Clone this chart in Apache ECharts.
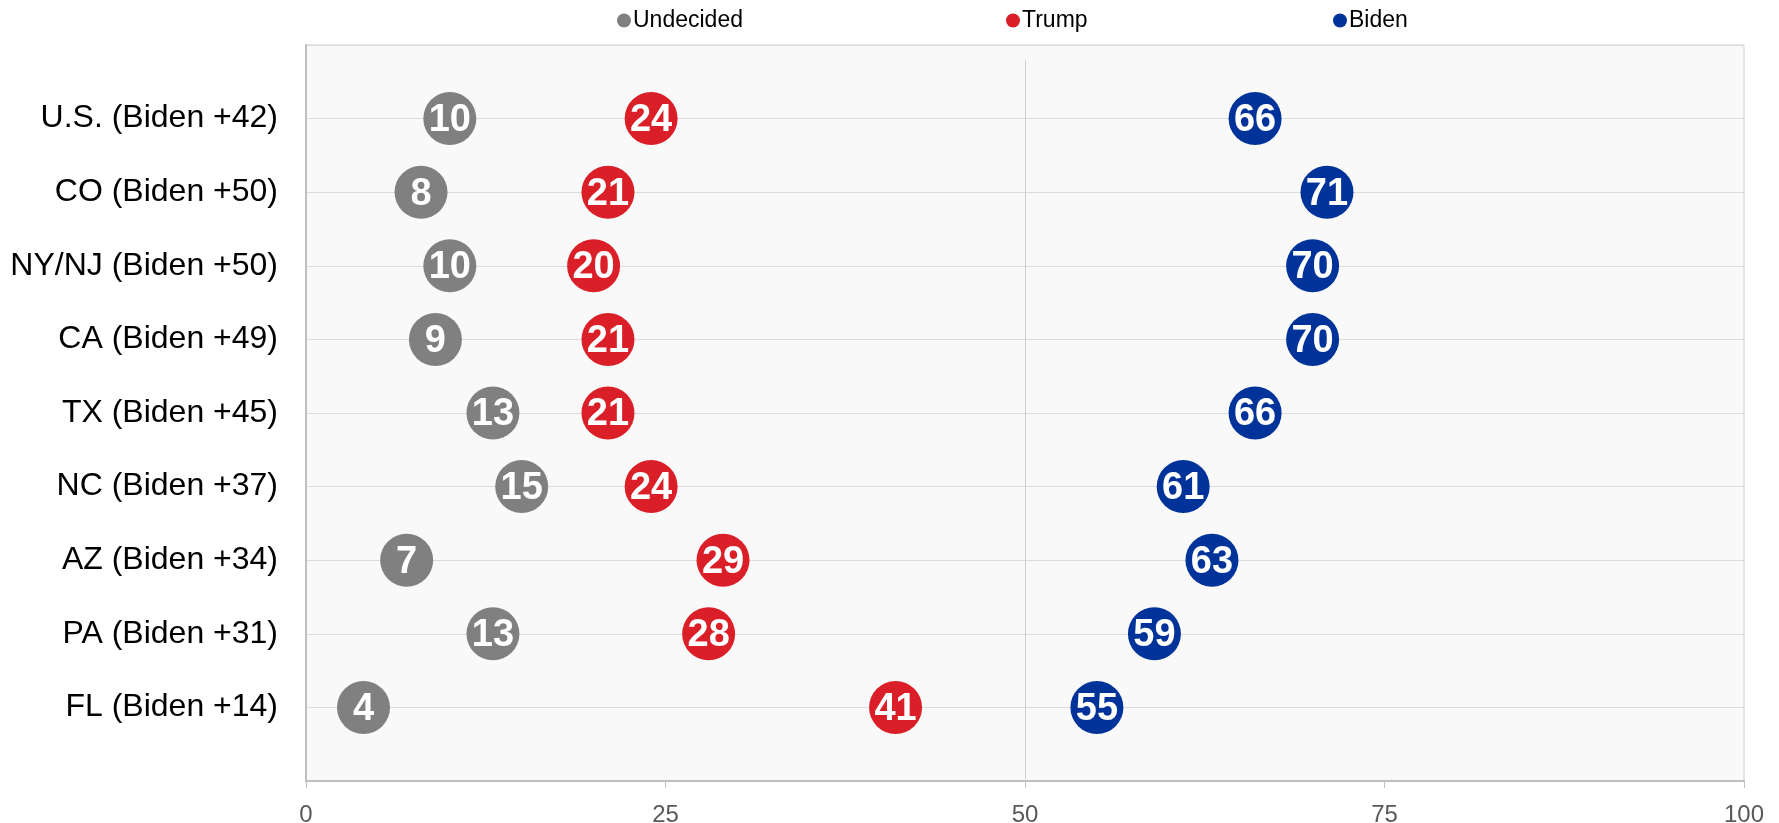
<!DOCTYPE html>
<html>
<head>
<meta charset="utf-8">
<script src="https://cdn.jsdelivr.net/npm/echarts@6/dist/echarts.min.js"></script>
<style>html,body{margin:0;padding:0;background:#fff;}#c{width:1779px;height:823px;}</style>
</head>
<body>
<div id="c"></div>
<script>
const categories = ["U.S. (Biden +42)","CO (Biden +50)","NY/NJ (Biden +50)","CA (Biden +49)","TX (Biden +45)","NC (Biden +37)","AZ (Biden +34)","PA (Biden +31)","FL (Biden +14)"];
const undecided = [10, 8, 10, 9, 13, 15, 7, 13, 4];
const trump = [24, 21, 20, 21, 21, 24, 29, 28, 41];
const biden = [66, 71, 70, 70, 66, 61, 63, 59, 55];
const xTicks = [0, 25, 50, 75, 100];

const seriesDefs = [
  {name: "Undecided", values: undecided, color: "#808080"},
  {name: "Trump", values: trump, color: "#DA1F28"},
  {name: "Biden", values: biden, color: "#00339A"}
];

const chart = echarts.init(document.getElementById('c'), null, {renderer: 'canvas'});
const legendLefts = [612, 1001, 1328];
const option = {
  animation: false,
  backgroundColor: '#ffffff',
  textStyle: {fontFamily: 'Liberation Sans, Arial, sans-serif'},
  legend: seriesDefs.map((s, i) => ({
    data: [s.name], left: legendLefts[i], top: 4, icon: 'circle',
    itemWidth: 14, itemHeight: 14, itemGap: 2,
    textStyle: {fontSize: 23, color: '#000', padding: [0, 0, 0, -3]},
    selectedMode: false
  })),
  grid: {left: 306, right: 35, top: 45, bottom: 42, containLabel: false, outerBoundsMode: 'none', show: true, backgroundColor: '#F9F9F9', borderColor: '#D0D0D0', borderWidth: 1},
  xAxis: {
    type: 'value', min: 0, max: 100, interval: 25,
    axisLine: {show: true, onZero: false, lineStyle: {color: '#BFBFBF', width: 2}},
    axisTick: {show: true, length: 7, lineStyle: {color: '#BFBFBF'}},
    splitLine: {show: false},
    axisLabel: {fontSize: 24, color: '#595959', margin: 22, formatter: v => xTicks.includes(v) ? String(v) : ''}
  },
  yAxis: {
    type: 'value', min: -1, max: 9, interval: 1, inverse: true,
    axisLine: {show: true, onZero: false, lineStyle: {color: '#BFBFBF', width: 2}},
    axisTick: {show: false},
    splitLine: {show: true, lineStyle: {color: '#DCDCDC', width: 1}},
    axisLabel: {fontSize: 32, color: '#000', margin: 28, formatter: v => categories[v] !== undefined ? categories[v] : ''}
  },
  series: seriesDefs.map((s, si) => ({
    type: 'scatter', name: s.name, symbol: 'circle', symbolSize: 53,
    itemStyle: {color: s.color, opacity: 1},
    data: s.values.map((v, i) => [v, i]),
    label: {show: true, position: 'inside', formatter: p => String(p.value[0]), color: '#fff', fontSize: 38, fontWeight: 'bold', offset: [0, 2]},
    markLine: si === 0 ? {
      silent: true, symbol: ['none', 'none'], label: {show: false},
      lineStyle: {color: '#D0D0D0', type: 'solid', width: 1},
      data: [[{coord: [50, -0.8]}, {coord: [50, 9]}]]
    } : undefined,
    z: 3
  }))
};
chart.setOption(option);
</script>
</body>
</html>
